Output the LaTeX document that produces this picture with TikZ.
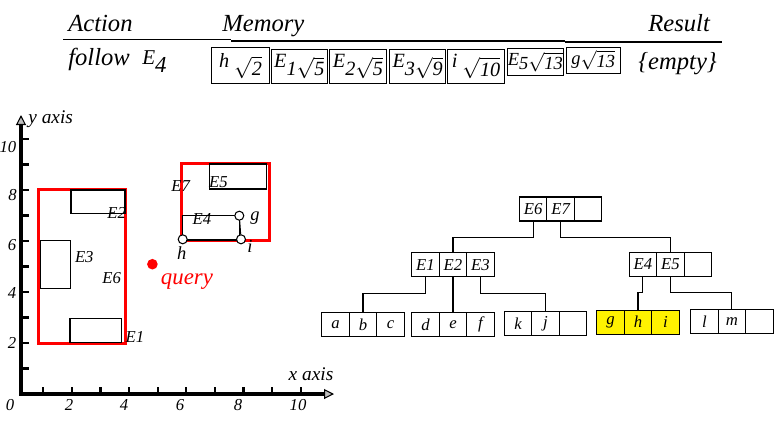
\documentclass[tikz,border=0pt]{standalone}
\usepackage{fontspec}
\setmainfont{Liberation Serif}
\usetikzlibrary{positioning,arrows.meta}

\newcommand{\fsz}[1]{\fontsize{#1}{#1}\selectfont}
\newcommand{\memitem}[4][0.9ex]{\raisebox{#1}{#2}#3$\sqrt{\textit{#4}}$}
\newcommand{\tnode}[6][]{%
  \node[cell,#1] (#2-1) at (#3) {#4};
  \node[cell,#1,right=0pt of #2-1] (#2-2) {#5};
  \node[cell,#1,right=0pt of #2-2] (#2-3) {#6};}

\begin{document}
\begin{tikzpicture}[x=0.02cm, y=-0.02cm, font=\itshape,%
    head/.style={font=\fsz{14}\itshape, inner sep=0pt},%
    rule/.style={line width=0.9pt},%
    membox/.style={draw, line width=0.6pt, inner sep=0pt, font=\fsz{11.5}\itshape},%
    axisline/.style={line width=1.8pt, line cap=rect,%
      -{Triangle[fill=gray!50, line width'=0.6pt, length=0.2cm, width=0.2cm]}},%
    tickmark/.style={line width=1.3pt},%
    num/.style={font=\fsz{9.5}\itshape, inner sep=0pt},%
    lbl/.style={font=\fsz{9.5}\itshape, inner sep=0pt},%
    ptlbl/.style={font=\fsz{10.5}\itshape, inner sep=0pt},%
    mbr/.style={draw=red, line width=0.06cm},%
    entry/.style={draw, line width=0.6pt},%
    corner/.style={circle, draw, fill=white, line width=0.6pt,%
      minimum size=0.18cm, inner sep=0pt},%
    cell/.style={draw, line width=0.6pt, outer sep=0pt, inner sep=0pt,%
      minimum width=0.55cm, minimum height=0.48cm, font=\fsz{9.5}\itshape},%
    link/.style={line width=0.6pt, to path={(\tikztostart.south)%
      -- ++(0pt,-0.33cm) -| (\tikztotarget.north)}}]
  \useasboundingbox (0,0) rectangle (778,420);

  \node[head, anchor=base west] (action) at (68,31) {Action};
  \node[head, anchor=base west] (memory) at (222,31) {Memory};
  \node[head, anchor=base west] (result) at (648,31) {Result};
  \draw[rule] (63,39.5) -- (231,39.5);
  \draw[rule] (231,40.8) -- (565,40.8);
  \draw[rule] (565,41.8) -- (722,41.8);

  \node[head, anchor=base west] (follow) at (68,65) {follow};
  \node[anchor=base west, inner sep=0pt, font=\fsz{12}\itshape] (fe4) at (142,64)
    {E\raisebox{-5pt}{\fsz{13}4}};
  \node[membox, minimum width=1.15cm, minimum height=0.73cm] (m1) at (240.5,65.7) {\memitem{h}{\ }{2}};
  \node[membox, minimum width=1.13cm, minimum height=0.67cm] (m2) at (299.3,66.7) {\memitem{E}{1}{5}};
  \node[membox, minimum width=1.15cm, minimum height=0.67cm] (m3) at (358,66.7) {\memitem{E}{2}{5}};
  \node[membox, minimum width=1.13cm, minimum height=0.69cm] (m4) at (417.7,66.7) {\memitem{E}{3}{9}};
  \node[membox, minimum width=1.13cm, minimum height=0.69cm] (m5) at (476,66.7) {\memitem{i}{\ }{10}};
  \node[membox, font=\fsz{10.5}\itshape, minimum width=1.12cm, minimum height=0.55cm] (m6) at (535.3,62.2) {\memitem[0.5ex]{E}{5}{13}};
  \node[membox, font=\fsz{10.5}\itshape, minimum width=1.09cm, minimum height=0.52cm] (m7) at (593.3,60.3) {\memitem[0.3ex]{g}{}{13}};
  \node[head, anchor=base west] (empty) at (638,69) {\{empty\}};

  \draw[axisline] (21,394) -- (21,115);
  \draw[axisline] (21,394) -- (334,394);
  \foreach \k in {1,...,10}
    \draw[tickmark] (21,{394-25.5*\k}) -- ++(8,0);
  \foreach \k in {1,...,10}
    \draw[tickmark] ({14.7+28.6*\k},394) -- ++(0,-7);
  \node[num] (y10) at (8,147) {10};
  \node[num] (y8) at (12.5,195) {8};
  \node[num] (y6) at (12,245) {6};
  \node[num] (y4) at (12,293) {4};
  \node[num] (y2) at (12,343) {2};
  \node[num] (x0) at (10,405) {0};
  \node[num] (x2) at (69,405) {2};
  \node[num] (x4) at (124,405) {4};
  \node[num] (x6) at (180,405) {6};
  \node[num] (x8) at (238,405) {8};
  \node[num] (x10) at (298,405) {10};
  \node[font=\fsz{11}\itshape, inner sep=0pt, anchor=west] (yaxis) at (28,119) {y axis};
  \node[font=\fsz{11}\itshape, inner sep=0pt] (xaxis) at (311,374) {x axis};

  \draw[mbr] (38.3,189.3) rectangle (125,343.3);
  \draw[mbr] (181.7,163.3) rectangle (269.3,240.7);
  \draw[entry] (71,190) rectangle (125,213.3);
  \draw[entry] (40.7,240.7) rectangle (70.7,288.3);
  \draw[entry] (70,318.3) rectangle (121.7,342.7);
  \draw[entry] (209.3,164) rectangle (266.7,189);
  \draw[entry] (182.7,215.7) rectangle (239.3,240);
  \node[corner] (h) at (182.7,239.3) {};
  \node[corner] (g) at (239.3,215.7) {};
  \node[corner] (i) at (241,239.3) {};
  \draw[line width=0.6pt] (g) -- (i);
  \node[lbl] (lE2) at (116.7,213) {E2};
  \node[lbl] (lE3) at (84.3,257) {E3};
  \node[lbl] (lE6) at (111.7,278) {E6};
  \node[lbl] (lE1) at (135,336.7) {E1};
  \node[lbl] (lE7) at (180.7,186) {E7};
  \node[lbl] (lE5) at (218.5,181.7) {E5};
  \node[lbl] (lE4) at (202,219.5) {E4};
  \node[ptlbl] (lg) at (255,218) {g};
  \node[ptlbl] (lh) at (181.7,252.7) {h};
  \node[ptlbl] (li) at (250,246) {i};
  \fill[red] (152.4,264.2) circle[radius=0.106cm];
  \node[font=\fsz{13}\itshape, text=red, inner sep=0pt] (query) at (187,282) {query};

  \tnode{root}{533.2,209}{E6}{E7}{}
  \tnode{left}{425.5,264.7}{E1}{E2}{E3}
  \tnode{right}{642.9,264.2}{E4}{E5}{}
  \tnode{abc}{335.5,324.5}{a}{b}{c}
  \tnode{def}{425.5,324.3}{d}{e}{f}
  \tnode{kj}{518,323.3}{k}{j}{}
  \tnode[fill=yellow]{ghi}{610.5,322.2}{g}{h}{i}
  \tnode{lm}{704.4,321.3}{l}{m}{}
  \draw[link] (root-1) to (left-2);
  \draw[link] (root-2) to (right-2);
  \draw[link] (left-1) to (abc-2);
  \draw[link] (left-2) to (def-2);
  \draw[link] (left-3) to (kj-2);
  \draw[link] (right-1) to (ghi-2);
  \draw[link] (right-2) to (lm-2);
\end{tikzpicture}
\end{document}
